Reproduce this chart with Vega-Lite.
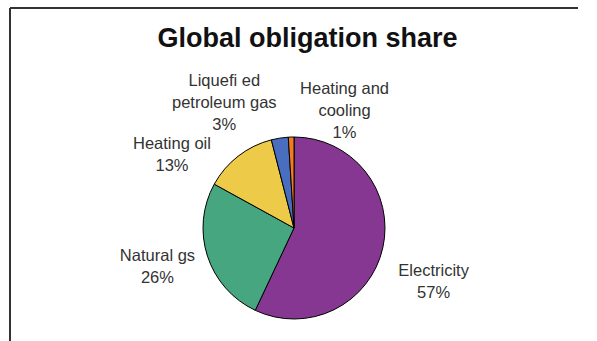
{
  "$schema": "https://vega.github.io/schema/vega-lite/v6.json",
  "autosize": "none",
  "width": 568,
  "height": 440,
  "padding": {"left": 10, "top": 8, "right": 19, "bottom": -107},
  "background": "white",
  "config": {"view": {"stroke": null}},
  "title": {
    "text": "Global obligation share",
    "font": "Liberation Sans",
    "fontSize": 27,
    "fontWeight": "bold",
    "color": "#111111",
    "anchor": "middle",
    "frame": "group",
    "dx": 13.5,
    "baseline": "alphabetic",
    "offset": -67
  },
  "data": {
    "values": [
      {"category": "Electricity", "share": 57, "idx": 1, "label": "Electricity\n57%"},
      {"category": "Natural gas", "share": 26, "idx": 2, "label": "Natural gs\n26%"},
      {"category": "Heating oil", "share": 13, "idx": 3, "label": "Heating oil\n13%"},
      {"category": "Liquefied petroleum gas", "share": 3, "idx": 4, "label": "Liquefi ed\npetroleum gas\n3%"},
      {"category": "Heating and cooling", "share": 1, "idx": 5, "label": "Heating and\ncooling\n1%"}
    ]
  },
  "layer": [
    {
      "mark": {"type": "arc", "outerRadius": 91, "stroke": "#000000", "strokeWidth": 1},
      "encoding": {
        "theta": {"field": "share", "type": "quantitative", "stack": true},
        "color": {
          "field": "category",
          "type": "nominal",
          "scale": {
            "domain": ["Electricity", "Natural gas", "Heating oil", "Liquefied petroleum gas", "Heating and cooling"],
            "range": ["#863792", "#46A680", "#EDCA47", "#4A6EBF", "#F27C22"]
          },
          "legend": null
        },
        "order": {"field": "idx", "type": "quantitative"}
      }
    },
    {
      "mark": {"type": "text", "radius": 142, "dx": 1, "dy": 12, "font": "Liberation Sans", "fontSize": 16.5, "color": "#333333", "lineBreak": "\n", "lineHeight": 22, "align": "center", "baseline": "middle"},
      "encoding": {
        "theta": {"field": "share", "type": "quantitative", "stack": true},
        "order": {"field": "idx", "type": "quantitative"},
        "detail": {"field": "category", "type": "nominal"},
        "text": {"condition": {"test": "datum.category === 'Electricity'", "field": "label"}, "value": ""}
      }
    },
    {
      "mark": {"type": "text", "radius": 142, "dx": -1.5, "dy": -16, "font": "Liberation Sans", "fontSize": 16.5, "color": "#333333", "lineBreak": "\n", "lineHeight": 22, "align": "center", "baseline": "middle"},
      "encoding": {
        "theta": {"field": "share", "type": "quantitative", "stack": true},
        "order": {"field": "idx", "type": "quantitative"},
        "detail": {"field": "category", "type": "nominal"},
        "text": {"condition": {"test": "datum.category === 'Natural gas'", "field": "label"}, "value": ""}
      }
    },
    {
      "mark": {"type": "text", "radius": 142, "dx": -35, "dy": 28, "font": "Liberation Sans", "fontSize": 16.5, "color": "#333333", "lineBreak": "\n", "lineHeight": 22, "align": "center", "baseline": "middle"},
      "encoding": {
        "theta": {"field": "share", "type": "quantitative", "stack": true},
        "order": {"field": "idx", "type": "quantitative"},
        "detail": {"field": "category", "type": "nominal"},
        "text": {"condition": {"test": "datum.category === 'Heating oil'", "field": "label"}, "value": ""}
      }
    },
    {
      "mark": {"type": "text", "radius": 142, "dx": -47.5, "dy": -6.5, "font": "Liberation Sans", "fontSize": 16.5, "color": "#333333", "lineBreak": "\n", "lineHeight": 22, "align": "center", "baseline": "middle"},
      "encoding": {
        "theta": {"field": "share", "type": "quantitative", "stack": true},
        "order": {"field": "idx", "type": "quantitative"},
        "detail": {"field": "category", "type": "nominal"},
        "text": {"condition": {"test": "datum.category === 'Liquefied petroleum gas'", "field": "label"}, "value": ""}
      }
    },
    {
      "mark": {"type": "text", "radius": 142, "dx": 55, "dy": 3, "font": "Liberation Sans", "fontSize": 16.5, "color": "#333333", "lineBreak": "\n", "lineHeight": 22, "align": "center", "baseline": "middle"},
      "encoding": {
        "theta": {"field": "share", "type": "quantitative", "stack": true},
        "order": {"field": "idx", "type": "quantitative"},
        "detail": {"field": "category", "type": "nominal"},
        "text": {"condition": {"test": "datum.category === 'Heating and cooling'", "field": "label"}, "value": ""}
      }
    },
    {
      "data": {"values": [{}]},
      "mark": {"type": "rule", "color": "#333333", "strokeWidth": 2},
      "encoding": {"y": {"value": 0}}
    },
    {
      "data": {"values": [{}]},
      "mark": {"type": "rule", "color": "#333333", "strokeWidth": 2},
      "encoding": {"x": {"value": 0}}
    }
  ]
}
